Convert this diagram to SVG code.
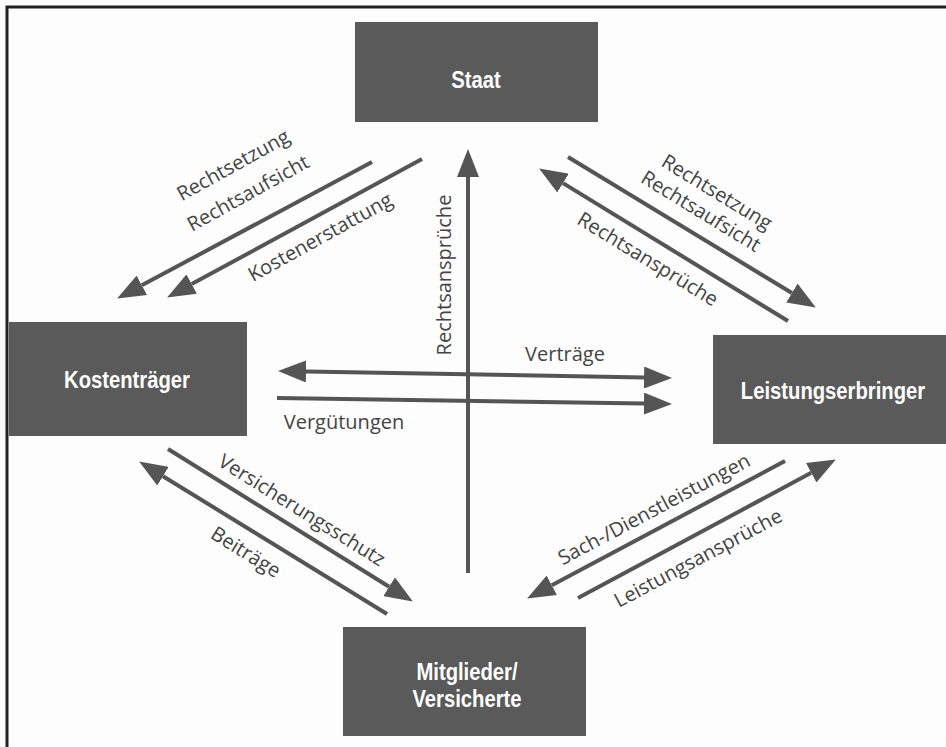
<svg xmlns="http://www.w3.org/2000/svg" width="946" height="747" viewBox="0 0 946 747">
  <style>
    .box { fill: #5a5a5a; }
    .nt { font-family: "Liberation Sans", Arial, sans-serif; font-weight: bold; font-size: 23px; fill: #ffffff; text-anchor: middle; }
    .lb { font-family: "Open Sans", "Liberation Sans", sans-serif; font-size: 20px; fill: #444444; text-anchor: middle; }
    .ar { stroke: #555555; stroke-width: 4; fill: none; }
    .frame { stroke: #222222; stroke-width: 3; fill: none; }
  </style>
  <defs>
    <marker id="head" markerUnits="userSpaceOnUse" markerWidth="28" markerHeight="22" refX="0" refY="11" orient="auto-start-reverse" viewBox="0 0 28 22">
      <path d="M0,0 L28,11 L0,22 z" fill="#555555"/>
    </marker>
  </defs>
  <rect x="0" y="0" width="946" height="747" fill="#fdfdfd"/>
  <path class="frame" d="M7,747 L7,7 L946,7"/>

  <g id="connectors">
    <line class="ar" x1="372" y1="162" x2="141.8" y2="285.3" marker-end="url(#head)"/>
    <line class="ar" x1="422" y1="159" x2="191.7" y2="284.1" marker-end="url(#head)"/>
    <line class="ar" x1="568" y1="157" x2="791.9" y2="293" marker-end="url(#head)"/>
    <line class="ar" x1="788" y1="321" x2="563" y2="183.1" marker-end="url(#head)"/>
    <line class="ar" x1="468" y1="573" x2="468" y2="177" marker-end="url(#head)"/>
    <line class="ar" x1="306" y1="371.5" x2="644" y2="377.5" marker-start="url(#head)" marker-end="url(#head)"/>
    <line class="ar" x1="277" y1="398" x2="644" y2="403.6" marker-end="url(#head)"/>
    <line class="ar" x1="168" y1="449" x2="389.1" y2="586.7" marker-end="url(#head)"/>
    <line class="ar" x1="387" y1="614" x2="163" y2="476.2" marker-end="url(#head)"/>
    <line class="ar" x1="785" y1="461" x2="551.8" y2="585.3" marker-end="url(#head)"/>
    <line class="ar" x1="578" y1="598" x2="811.2" y2="472.8" marker-end="url(#head)"/>

    <text class="lb" transform="translate(233,165) rotate(-29)" y="7">Rechtsetzung</text>
    <text class="lb" transform="translate(248,193) rotate(-29)" y="7">Rechtsaufsicht</text>
    <text class="lb" transform="translate(320,237) rotate(-29)" y="7">Kostenerstattung</text>
    <text class="lb" transform="translate(717,192) rotate(31.5)" y="7">Rechtsetzung</text>
    <text class="lb" transform="translate(701,211) rotate(31.5)" y="7">Rechtsaufsicht</text>
    <text class="lb" transform="translate(648,259) rotate(31.5)" y="7">Rechtsansprüche</text>
    <text class="lb" transform="translate(444,275) rotate(-90)" y="7">Rechtsansprüche</text>
    <text class="lb" x="565" y="361">Verträge</text>
    <text class="lb" x="344" y="429">Vergütungen</text>
    <text class="lb" transform="translate(302,510) rotate(32)" y="7">Versicherungsschutz</text>
    <text class="lb" transform="translate(246,552) rotate(32)" y="7">Beiträge</text>
    <text class="lb" transform="translate(654,509) rotate(-28)" y="7">Sach-/Dienstleistungen</text>
    <text class="lb" transform="translate(698,558) rotate(-28)" y="7">Leistungsansprüche</text>
  </g>

  <g id="staat">
    <rect class="box" x="355" y="22" width="243" height="100"/>
    <text class="nt" transform="translate(476,88) scale(0.88,1)">Staat</text>
  </g>
  <g id="kostentraeger">
    <rect class="box" x="9" y="322" width="238" height="114"/>
    <text class="nt" transform="translate(127,388) scale(0.88,1)">Kostenträger</text>
  </g>
  <g id="leistungserbringer">
    <rect class="box" x="713" y="335" width="233" height="109"/>
    <text class="nt" transform="translate(833,399) scale(0.88,1)">Leistungserbringer</text>
  </g>
  <g id="mitglieder">
    <rect class="box" x="343" y="627" width="243" height="109"/>
    <text class="nt" transform="translate(467,680) scale(0.88,1)">Mitglieder/</text>
    <text class="nt" transform="translate(467,707) scale(0.88,1)">Versicherte</text>
  </g>
</svg>
